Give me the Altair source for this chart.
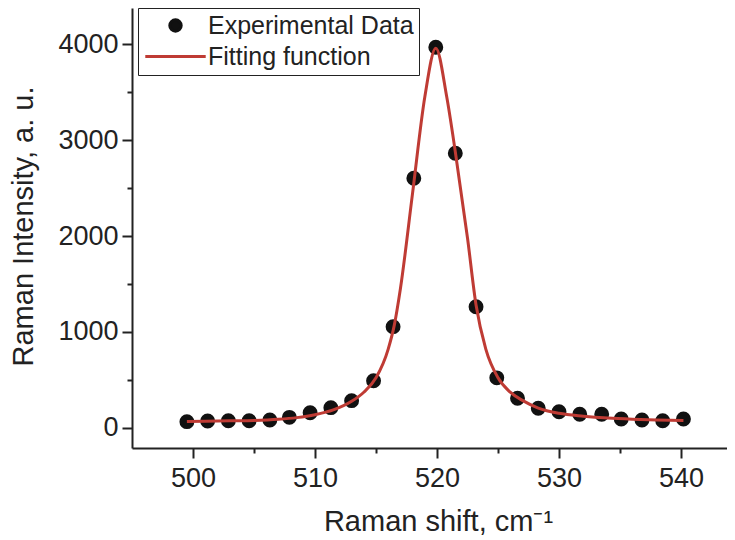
import altair as alt
import pandas as pd

# ---- data ----
shift = [499.5, 501.2, 502.9, 504.6, 506.3, 507.9, 509.6, 511.3, 513.0, 514.8,
         516.4, 518.1, 519.9, 521.5, 523.2, 524.9, 526.6, 528.3, 530.0, 531.7,
         533.5, 535.1, 536.8, 538.5, 540.2]
intensity = [63, 70, 73, 73, 80, 108, 156, 209, 282, 490,
             1054, 2602, 3969, 2863, 1262, 520, 307, 202, 167, 140,
             140, 91, 80, 73, 91]

fit_shift = [499.5, 501.0, 503.0, 505.0, 507.0, 508.5, 510.0, 511.5, 513.0, 514.0,
             515.0, 516.0, 516.5, 517.0, 518.0, 519.0, 519.9, 520.8, 521.5, 522.5,
             523.2, 524.0, 525.0, 526.0, 527.0, 528.3, 530.0, 532.0, 534.0, 536.0,
             538.0, 540.2]
fit_value = [65, 68, 72, 76, 88, 105, 135, 185, 275, 370,
             520, 820, 1070, 1450, 2450, 3450, 3960, 3450, 2880, 1980,
             1280, 820, 520, 370, 285, 205, 150, 120, 100, 88,
             80, 75]

series_names = ["Experimental Data", "Fitting function"]
y_ticks = [0, 500, 1000, 1500, 2000, 2500, 3000, 3500, 4000]
x_ticks = [500, 505, 510, 515, 520, 525, 530, 535, 540]

df_pts = pd.DataFrame({"shift": shift, "intensity": intensity,
                       "series": [series_names[0]] * len(shift)})
df_fit = pd.DataFrame({"shift": fit_shift, "fit": fit_value})

FONT = "Liberation Sans"
TXT = "#222222"
RED = "#bf3b34"

xscale = alt.Scale(domain=[495, 543.77], nice=False, zero=False)
yscale = alt.Scale(domain=[-212, 4379], nice=False, zero=False)

xaxis = alt.Axis(
    values=x_ticks, format="d",
    labelExpr="datum.value % 10 === 0 ? datum.label : ''",
    tickSize={"condition": {"test": "datum.value % 10 !== 0", "value": 5}, "value": 10},
    grid=False, title="Raman shift, cm\u207b\u00b9",
    titleX=306, titleY=82, titleAlign="center", titleBaseline="alphabetic",
    labelFont=FONT, labelFontSize=27, labelColor=TXT, labelPadding=7,
    titleFont=FONT, titleFontSize=29, titleColor=TXT, titleFontWeight="normal",
    domainColor=TXT, domainWidth=2, tickColor=TXT, tickWidth=2,
)
yaxis = alt.Axis(
    values=y_ticks, format="d",
    labelExpr="datum.value % 1000 === 0 ? datum.label : ''",
    tickSize={"condition": {"test": "datum.value % 1000 !== 0", "value": 5}, "value": 10},
    grid=False, title="Raman Intensity, a. u.",
    titleX=-94, titleY=218, titleAngle=-90, titleAlign="center", titleBaseline="bottom",
    labelFont=FONT, labelFontSize=27, labelColor=TXT, labelPadding=4,
    titleFont=FONT, titleFontSize=29, titleColor=TXT, titleFontWeight="normal",
    domainColor=TXT, domainWidth=2, tickColor=TXT, tickWidth=2,
)

leg = alt.Legend(
    title=None, orient="none", legendX=6, legendY=0,
    labelFont=FONT, labelFontSize=25, labelColor=TXT, labelLimit=0,
    symbolOffset=20, labelOffset=20, rowPadding=5, padding=5,
    strokeColor=TXT, fillColor="white", symbolStrokeWidth=3,
)

points = alt.Chart(df_pts).mark_point(filled=True, strokeWidth=3.5, opacity=1).encode(
    x=alt.X("shift:Q", scale=xscale, axis=xaxis),
    y=alt.Y("intensity:Q", scale=yscale, axis=yaxis),
    fill=alt.Fill("series:N", scale=alt.Scale(domain=series_names, range=["#111111", RED]), legend=leg),
    stroke=alt.Stroke("series:N", scale=alt.Scale(domain=series_names, range=["#111111", RED]), legend=leg),
    shape=alt.Shape("series:N", scale=alt.Scale(domain=series_names, range=["circle", "M-5.3,0H5.3"]), legend=leg),
    size=alt.Size("series:N", scale=alt.Scale(domain=series_names, range=[130, 130]), legend=leg),
)

line = alt.Chart(df_fit).mark_line(color=RED, strokeWidth=3, interpolate="monotone").encode(
    x=alt.X("shift:Q", scale=xscale, axis=xaxis),
    y=alt.Y("fit:Q", scale=yscale, axis=yaxis),
)

chart = alt.layer(points, line).properties(
    width=595, height=440,
    autosize=alt.AutoSizeParams(type="none"),
    padding={"left": 124, "top": 0, "right": 0, "bottom": 90},
    background="white",
).configure_view(stroke=None)

chart.save("out.html", embed_options={"renderer": "svg", "actions": False})
